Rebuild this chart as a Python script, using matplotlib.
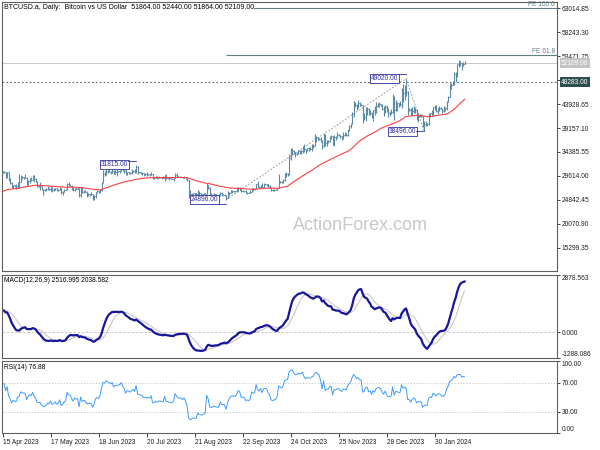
import matplotlib
matplotlib.use("Agg")
import matplotlib.pyplot as plt
import matplotlib.transforms as mtransforms
import numpy as np
import pandas as pd

plt.rcParams['font.family'] = ['Liberation Sans', 'DejaVu Sans']

# =======================
# daily closes before the visible window (only feed the indicators)
# 1 Jan 2023 .. 14 Apr 2023
# =======================
warmup_close = [
    16620, 16680, 16670, 16850, 16830, 16950, 16940, 17120, 17180, 17440, 17940, 18850, 19930, 20950, 20870, 21170,
    21160, 20690, 21080, 22680, 22780, 22710, 22930, 22630, 23060, 23010, 23080, 23030, 23770, 22840, 23140,
    23730, 23490, 23430, 23330, 22950, 22760, 23260, 22960, 21800, 21630, 21860, 21790, 21780, 22200, 24330, 23520,
    24570, 24630, 24280, 24840, 24450, 24190, 23950, 23200, 23170, 23560, 23490, 23150,
    23650, 23480, 22360, 22350, 22430, 22410, 22200, 21720, 20360, 20190, 20630, 22160, 24200, 24750, 24380, 25050,
    27420, 26970, 28040, 27770, 28180, 27310, 28330, 27490, 27490, 27990, 27140, 27270, 28350, 28030, 28480,
    28450, 28200, 27800, 28170, 28170, 28030, 27920, 27950, 28330, 29650, 30240, 29880, 30390, 30480,
]

# =======================
# visible bars: 15 Apr 2023 .. 19 Feb 2024 (broker skips 25 Dec and 1 Jan)
# =======================
skipped_days = ['2023-12-25', '2024-01-01']

close = [
    # Apr
    30320, 30310, 29440, 30390, 28820, 28250, 27280, 27820, 27590, 27520, 28310, 28420, 29470, 29340, 29250, 29230,
    # May
    28090, 28680, 29030, 28850, 29530, 28900, 28460, 27700, 27630, 27620, 27000, 26800, 26780, 26930, 27190, 27040,
    27400, 26830, 26890, 27120, 26750, 26850, 27230, 26330, 26480, 26720, 26870, 28090, 27750, 27700, 27220,
    # Jun
    26820, 27250, 27070, 27120, 25760, 27240, 26350, 26500, 26480, 25850, 25940, 25900, 25920, 25120, 25580, 26330,
    26510, 26340, 26850, 28310, 30000, 29890, 30690, 30550, 30470, 30270, 30690, 30080, 30450, 30470,
    # Jul
    30590, 30620, 31160, 30770, 30510, 29900, 30350, 30290, 30170, 30420, 30620, 30390, 31480, 30330, 30300, 30250,
    30140, 29860, 29920, 29800, 29910, 29800, 30080, 29180, 29230, 29350, 29210, 29320, 29360, 29280, 29230,
    # Aug
    29700, 29180, 29190, 29110, 29080, 29050, 29180, 29770, 29580, 29430, 29400, 29420, 29280, 29410, 29170, 28700,
    26630, 26050, 26100, 26190, 26120, 26040, 26430, 26160, 26060, 26010, 26090, 26100, 27720, 27300, 25930,
    # Sep
    25800, 25870, 25970, 25820, 25780, 25750, 26240, 25910, 25900, 25840, 25160, 25840, 26230, 26530, 26610, 26570,
    26530, 26760, 27210, 27130, 26570, 26580, 26580, 26250, 26300, 26220, 26350, 27030, 26910, 26970,
    # Oct
    27990, 27530, 27430, 27790, 27410, 27950, 27970, 27940, 27600, 27390, 26880, 26760, 26860, 26860, 27160, 28520,
    28420, 28330, 28720, 29680, 29920, 29990, 33090, 33920, 34500, 34160, 33910, 34090, 34540, 34500, 34670,
    # Nov
    35440, 34940, 34730, 35080, 35050, 35040, 35420, 35630, 36700, 37310, 37130, 37060, 36500, 35540, 37880, 36160,
    36600, 36590, 37390, 37480, 35810, 37430, 37290, 37720, 37800, 37480, 37250, 37830, 37860, 37720,
    # Dec
    38690, 39470, 39980, 41980, 44080, 43750, 43290, 44170, 43730, 43790, 41240, 41450, 42890, 43020, 41930, 42240,
    41360, 42660, 42260, 43650, 43870, 43990, 43740, 43020, 42520, 43440, 42580, 42070, 42140, 42280,
    # Jan
    44940, 42850, 44180, 44160, 43970, 43930, 46970, 46110, 46630, 46370, 42850, 42840, 41730, 42510, 43150, 42740,
    41260, 41620, 41660, 41580, 39570, 39900, 40080, 39940, 41820, 42120, 42030, 43300, 42950, 42580,
    # Feb
    43080, 43200, 43010, 42580, 42660, 43090, 44320, 45300, 47150, 47770, 48290, 49960, 49730, 51830, 51940, 52110,
    51650, 51864, 52109,
]

high = [
    30620, 30550, 30320, 30480, 30410, 29100, 28370, 27880, 27820, 28000, 28390, 30020, 29880, 29580, 29450, 29960,
    29330, 28870, 29260, 29340, 29850, 29800, 29170, 28650, 27820, 28320, 27630, 27040, 27000, 27180, 27650, 27300,
    27460, 27480, 27160, 27150, 27260, 27040, 27480, 27230, 26620, 26930, 26950, 28190, 28440, 28030, 27830,
    27340, 27300, 27310, 27440, 27130, 27350, 27370, 26790, 26770, 26530, 26200, 26000, 26400, 26080, 25750, 26460,
    26780, 26680, 26920, 28390, 30800, 30500, 31390, 30800, 31030, 30650, 31000, 30700, 30820, 31250,
    30650, 30780, 31380, 31320, 30880, 31490, 30440, 30380, 30430, 31030, 30790, 30960, 31815, 31640, 30390, 30440,
    30340, 30230, 30180, 30390, 30030, 29990, 30340, 30080, 29380, 29670, 29560, 29530, 29410, 29450, 29520,
    29730, 30020, 29400, 29300, 29130, 29170, 29240, 30150, 30100, 29680, 29510, 29460, 29480, 29650, 29440, 29220,
    28770, 26800, 26250, 26270, 26250, 26140, 26800, 26550, 26300, 26100, 26180, 26210, 28140, 27750, 27500,
    26120, 25970, 26120, 26080, 25870, 26000, 26420, 26430, 25940, 25970, 25860, 26520, 26380, 26780, 26850, 26660,
    26620, 27420, 27480, 27370, 27150, 26720, 26620, 26730, 26420, 26390, 26820, 27300, 27230, 27080,
    28050, 28580, 27650, 27840, 28120, 28270, 28020, 28070, 27990, 27720, 27470, 26940, 27070, 26970, 27290, 30000,
    28610, 28500, 28900, 30200, 30330, 30110, 34000, 35180, 35100, 34810, 34460, 34440, 34750, 34850, 34720,
    35570, 35950, 34920, 35250, 35380, 35280, 35880, 35980, 37920, 37500, 37380, 37220, 37390, 36730, 37960, 37970,
    36850, 36850, 37510, 37760, 37660, 37860, 37650, 38430, 37890, 37830, 37600, 38380, 38420, 38150,
    38980, 39680, 40200, 42400, 44500, 44290, 44050, 44700, 44370, 44050, 43800, 42100, 43430, 43400, 43090, 42700,
    42420, 42760, 43470, 44280, 44240, 44370, 44020, 43930, 43630, 43680, 43780, 43120, 42600, 42900,
    45900, 45500, 44730, 44330, 44230, 44480, 47230, 47900, 47700, 49020, 46500, 43250, 43080, 43340, 43550, 43190,
    42930, 42140, 41860, 41870, 41650, 40480, 40490, 40130, 42200, 42200, 42790, 43310, 43850, 43740,
    43250, 43470, 43380, 43120, 43500, 43400, 44520, 45600, 48190, 48150, 48580, 50350, 50370, 52020, 52820, 52580,
    52160, 52360, 52440,
]

low = [
    30230, 30120, 29270, 29100, 28590, 28010, 27140, 27180, 27350, 27020, 27210, 27250, 28380, 28900, 29050, 29100,
    27680, 27880, 28130, 28680, 28820, 28430, 28390, 27340, 27370, 26880, 26750, 25860, 26700, 26600, 26880, 26850,
    26600, 26410, 26660, 26820, 26680, 26540, 26830, 26090, 25880, 26330, 26710, 26830, 27570, 27570, 26880,
    26620, 26680, 26960, 26990, 25410, 25380, 26130, 26300, 26350, 25440, 25640, 25650, 25760, 24850, 24810, 25180,
    26180, 26290, 26250, 26650, 28260, 29600, 29830, 30270, 30320, 29950, 30220, 29900, 30060, 29600,
    30330, 30180, 30570, 30640, 30220, 29850, 29750, 30050, 30090, 29950, 30300, 30250, 30260, 29970, 30250, 30080,
    29700, 29530, 29770, 29640, 29740, 29630, 29740, 28930, 29070, 29110, 29080, 29130, 29250, 29050, 29140,
    28590, 28960, 29110, 28800, 28960, 28980, 28690, 29100, 29400, 29350, 29330, 29380, 29260, 29230, 29060, 28630,
    25200, 25800, 25980, 26000, 25810, 25350, 25800, 25870, 25800, 25990, 25980, 25870, 25920, 27030, 25660,
    25330, 25720, 25800, 25620, 25570, 25380, 25610, 25650, 25840, 25630, 24896, 25130, 25760, 26130, 26240, 26480,
    26390, 26400, 26680, 26850, 26380, 26520, 26500, 26210, 25990, 26110, 26120, 26340, 26670, 26890,
    26950, 27340, 27180, 27260, 27370, 27200, 27870, 27700, 27320, 27300, 26560, 26610, 26700, 26820, 26820, 27130,
    28100, 28160, 28180, 28650, 29480, 29690, 29870, 32880, 33700, 33900, 33400, 33870, 34050, 34080, 34080,
    34150, 34380, 34100, 34600, 34550, 34760, 34550, 35110, 35580, 36350, 36800, 36700, 36380, 34900, 35360, 35640,
    35500, 36200, 36400, 36920, 35700, 35640, 36860, 37250, 37600, 37150, 36750, 36880, 37620, 37520,
    37630, 38650, 39260, 39970, 41430, 43380, 42820, 43100, 43600, 43590, 40230, 40680, 40660, 41820, 41690, 41740,
    41260, 40530, 41820, 42200, 43330, 43430, 43600, 42790, 41630, 42120, 42310, 41310, 41540, 41980,
    42200, 40800, 42640, 42520, 43420, 43610, 43200, 44350, 44720, 45600, 41800, 42460, 41730, 41720, 42080, 42200,
    40680, 40280, 41440, 41450, 39460, 38496, 39500, 39500, 39830, 41400, 41630, 41800, 42700, 42300,
    41880, 42600, 42900, 42250, 42260, 42550, 42780, 44320, 45260, 46900, 47700, 47700, 48350, 49300, 51300, 51600,
    50650, 51450, 51864,
]

# =======================
# chart objects
# =======================
title = "BTCUSD.a, Daily:  Bitcoin vs US Dollar  51864.00 52440.00 51864.00 52109.00"
macd_title = "MACD(12,26,9) 2516.995 2038.582"
rsi_title = "RSI(14) 76.88"

pivot_dates = ['2023-07-13', '2023-09-11', '2024-01-11', '2024-01-23']
pivot_prices = [31815, 24896, 49020, 38496]
pivot_anchor = ['top', 'bottom', 'top', 'center']

fe_names = ['FE 61.8', 'FE 100.0']
fe_levels = [53700, 63000]
bid_price = 52109
level_line = 48283

price_ticks = [15299.35, 20070.90, 24842.45, 29614.00, 34385.55, 39157.10,
               43928.65, 48700.20, 53471.75, 58243.30, 63014.85]
macd_ticks = [-1288.086, 0.0, 2878.563]
rsi_ticks = [0, 30, 70, 100]

# =======================
# indicators
# =======================
dates = pd.date_range('2023-04-15', '2024-02-19', freq='D')
dates = dates[~dates.isin(pd.to_datetime(skipped_days))]
x = np.arange(len(close))
n_warm = len(warmup_close)

close_all = pd.Series(warmup_close + close, dtype=float)
ema55 = close_all.ewm(span=55, adjust=False).mean().values[n_warm:]
macd = close_all.ewm(span=12, adjust=False).mean() - close_all.ewm(span=26, adjust=False).mean()
signal = macd.rolling(9).mean()
delta = close_all.diff()
gain = delta.clip(lower=0).ewm(alpha=1 / 14, adjust=False).mean()
loss = (-delta.clip(upper=0)).ewm(alpha=1 / 14, adjust=False).mean()
rsi = (100 - 100 / (1 + gain / loss)).values[n_warm:]
macd = macd.values[n_warm:]
signal = signal.values[n_warm:]
opens = np.array([warmup_close[-1]] + close[:-1])

# =======================
# layout (pixel based, 600x450)
# =======================
W, H = 600, 450
fig = plt.figure(figsize=(6, 4.5), dpi=100)


def px_axes(l, t, r, b):
    return fig.add_axes([l / W, 1 - b / H, (r - l) / W, (b - t) / H])


ax = px_axes(2, 1.5, 557, 271)
axm = px_axes(2, 274.5, 557, 358.2)
axr = px_axes(2, 361, 557, 433.4)

XMIN, XMAX = -0.4, 369.6
bar_col = '#5b8ba4'
lbl_col = '#2e2e9e'
fe_col = '#5f7f86'
fs = 4.8

for a in (ax, axm, axr):
    a.set_xlim(XMIN, XMAX)
    a.yaxis.tick_right()
    a.tick_params(axis='y', length=2.5, width=0.6, pad=1, labelsize=fs, colors='#202020')
    a.tick_params(axis='x', bottom=False, labelbottom=False)
    for s in a.spines.values():
        s.set_color('#606060')
        s.set_linewidth(0.8)

# =======================
# main price panel
# =======================
ax.set_ylim(10652, 64391)
ax.set_yticks(price_ticks)
ax.set_yticklabels(['%.2f' % v for v in price_ticks])

ax.vlines(x, low, high, color=bar_col, lw=0.8, zorder=3)
ax.hlines(opens, x - 0.5, x, color=bar_col, lw=0.7, zorder=3)
ax.hlines(close, x, x + 0.5, color=bar_col, lw=0.7, zorder=3)
ax.plot(x, ema55, color='#ff4040', lw=0.8, zorder=4)

ax.axhline(bid_price, color='#c8c8c8', lw=0.7, zorder=1)
ax.axhline(level_line, color='#5a6a6a', lw=0.8, ls=(0, (1.5, 2)), zorder=1)

piv_x = [int(np.where(dates == pd.Timestamp(d))[0][0]) for d in pivot_dates]
# fibo expansion legs: low -> high -> pullback low
ax.plot(piv_x[1:], pivot_prices[1:], color='#8a8a8a', lw=0.6, ls=(0, (2, 2)), zorder=2)

ax.hlines(fe_levels, piv_x[1], XMAX, color=fe_col, lw=0.8, zorder=2)
for name, lev in zip(fe_names, fe_levels):
    ax.text(XMAX - 1.5, lev + 120, name, ha='right', va='bottom', fontsize=fs, color=fe_col, zorder=5)

half_box = 860
gap = 5.3
for px_, pr, anc in zip(piv_x, pivot_prices, pivot_anchor):
    ax.text(px_ - gap, pr, '%.2f' % pr, ha='right', va='center', fontsize=fs, color=lbl_col, zorder=6,
            bbox=dict(boxstyle='square,pad=0.15', fc='white', ec=lbl_col, lw=0.6))
    py = pr + {'top': half_box, 'bottom': -half_box, 'center': 0}[anc]
    ax.plot([px_ - gap, px_], [py, py], color=lbl_col, lw=0.6, zorder=6)

trans = mtransforms.blended_transform_factory(ax.transAxes, ax.transData)
ax.text(1.0 + 4 / 555, bid_price, '%.2f' % bid_price, transform=trans, ha='left', va='center',
        fontsize=fs, color='white', clip_on=False, zorder=7,
        bbox=dict(boxstyle='square,pad=0.2', fc='#c4c4c4', ec='none'))
ax.text(1.0 + 4 / 555, level_line, '%.2f' % level_line, transform=trans, ha='left', va='center',
        fontsize=fs, color='white', clip_on=False, zorder=7,
        bbox=dict(boxstyle='square,pad=0.2', fc='#2f4f4f', ec='none'))

ax.text(2 / 555, 1 - 2.5 / 269.5, title, transform=ax.transAxes, ha='left', va='top', fontsize=5.0,
        color='black', zorder=8, bbox=dict(boxstyle='square,pad=0.05', fc='white', ec='none'))

fig.text(360 / W, 1 - 226 / H, 'ActionForex.com', ha='center', va='center', fontsize=13,
         color='#c8c8c8', zorder=0)

# =======================
# MACD panel
# =======================
axm.set_ylim(macd_ticks[0], macd_ticks[-1])
axm.set_yticks(macd_ticks)
axm.set_yticklabels(['%.3f' % v for v in macd_ticks])
labs = axm.get_yticklabels()
labs[0].set_va('bottom')
labs[-1].set_va('top')
axm.axhline(0, color='#c0c0c0', lw=0.6, ls=(0, (3, 2)))
axm.plot(x, signal, color='#c8c8c8', lw=0.8)
axm.plot(x, macd, color='#16169c', lw=1.6)
axm.text(2 / 555, 1 - 3 / 83.7, macd_title, transform=axm.transAxes, ha='left', va='top',
         fontsize=fs, color='black')

# =======================
# RSI panel
# =======================
axr.set_ylim(0, 100)
axr.set_yticks(rsi_ticks)
axr.set_yticklabels(['%.2f' % v for v in rsi_ticks])
labs = axr.get_yticklabels()
labs[0].set_va('bottom')
labs[-1].set_va('top')
axr.axhline(70, color='#c0c0c0', lw=0.6, ls=(0, (1.5, 2)))
axr.axhline(30, color='#c0c0c0', lw=0.6, ls=(0, (1.5, 2)))
axr.plot(x, rsi, color='#3d9bff', lw=0.7)
axr.text(2 / 555, 1 - 3 / 72.4, rsi_title, transform=axr.transAxes, ha='left', va='top',
         fontsize=fs, color='black')

tick_pos = x[::32]
axr.set_xticks(tick_pos)
axr.set_xticklabels([d.strftime('%d %b %Y') for d in dates[::32]])
axr.tick_params(axis='x', bottom=True, labelbottom=True, length=3, width=0.6, pad=1,
                labelsize=fs, colors='#202020', direction='out')
for lab in axr.get_xticklabels():
    lab.set_ha('left')

fig.savefig('out.png', dpi=100)
